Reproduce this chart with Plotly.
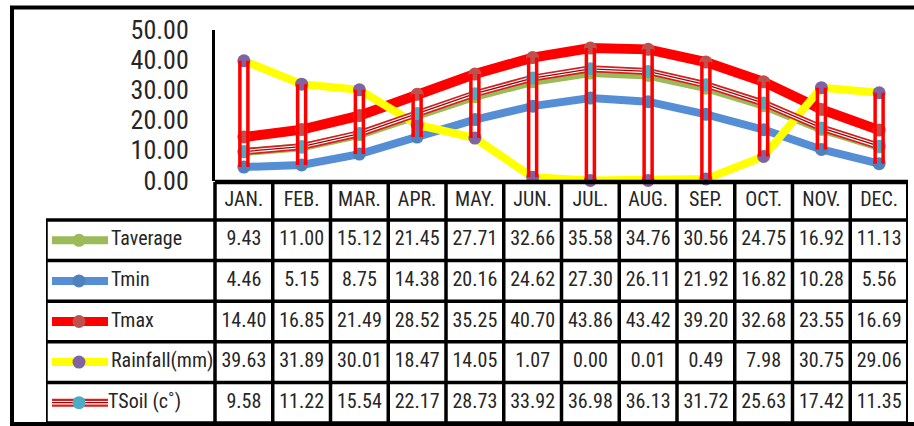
import plotly.graph_objects as go

# ---------------- data ----------------
months = ["JAN.", "FEB.", "MAR.", "APR.", "MAY.", "JUN.", "JUL.", "AUG.", "SEP.", "OCT.", "NOV.", "DEC."]
taverage = [9.43, 11.00, 15.12, 21.45, 27.71, 32.66, 35.58, 34.76, 30.56, 24.75, 16.92, 11.13]
tmin = [4.46, 5.15, 8.75, 14.38, 20.16, 24.62, 27.30, 26.11, 21.92, 16.82, 10.28, 5.56]
tmax = [14.40, 16.85, 21.49, 28.52, 35.25, 40.70, 43.86, 43.42, 39.20, 32.68, 23.55, 16.69]
rainfall = [39.63, 31.89, 30.01, 18.47, 14.05, 1.07, 0.00, 0.01, 0.49, 7.98, 30.75, 29.06]
tsoil = [9.58, 11.22, 15.54, 22.17, 28.73, 33.92, 36.98, 36.13, 31.72, 25.63, 17.42, 11.35]
series_names = ["Taverage", "Tmin", "Tmax", "Rainfall(mm)", "TSoil (c˚)"]
y_ticks = [0, 10, 20, 30, 40, 50]

# ---------------- layout constants (pixels) ----------------
W, H = 914, 426
PLOT_L, PLOT_R = 215, 908
Y0_PX, Y50_PX = 180.5, 29.5
LEG_L = 46
TABLE_TOP, HEADER_BOT, TABLE_BOT = 182, 220, 423
ROW_H = (TABLE_BOT - HEADER_BOT) / 5
COL_W = (PLOT_R - PLOT_L) / 12
X2_LO = -0.5 - (PLOT_L - LEG_L) / COL_W

FONT = "Liberation Sans Narrow, Arial Narrow, Roboto Condensed, Liberation Sans, sans-serif"
TXT = "#262626"

GREEN, GREEN_M = "#9BBB59", "#9BBB59"
BLUE, BLUE_M = "#558ED5", "#4F81BD"
RED, RED_M = "#FF0000", "#C0504D"
YEL, PUR = "#FFFF00", "#8064A2"
SOIL_A, SOIL_B, SOIL_M = "#D42020", "#A00000", "#4BACC6"

def px2x(px):
    return X2_LO + (px - LEG_L) / COL_W

x_idx = list(range(len(months)))
fig = go.Figure()

# ---------------- series ----------------
def series(y, lc, lw, mc, ms=13, with_marker=True):
    fig.add_trace(go.Scatter(
        x=x_idx, y=y, mode="lines+markers" if with_marker else "lines",
        line=dict(color=lc, width=lw),
        marker=dict(color=mc, size=ms, line=dict(width=0)),
        cliponaxis=False, showlegend=False, hoverinfo="skip"))

series(taverage, GREEN, 8, GREEN_M)
series(tmin, BLUE, 8, BLUE_M)
series(tmax, RED, 10, RED_M)
series(rainfall, YEL, 8, PUR)
series(tsoil, SOIL_A, 7, SOIL_M, with_marker=False)
series(tsoil, "white", 3.5, SOIL_M, with_marker=False)
series(tsoil, SOIL_B, 1.3, SOIL_M)

shapes = []
# high-low lines (double red line)
all_series = [taverage, tmin, tmax, rainfall, tsoil]
for i in x_idx:
    vals = [s[i] for s in all_series]
    lo, hi = min(vals), max(vals)
    for off in (-4, 4):
        shapes.append(dict(type="line", xref="x", yref="y", xsizemode="pixel",
                           xanchor=i, x0=off, x1=off, y0=lo, y1=hi,
                           line=dict(color="#FF0000", width=3.5), layer="above"))

# ---------------- table ----------------
shapes.append(dict(type="line", xref="x2", yref="y2", x0=-0.5, x1=11.5,
                   y0=TABLE_TOP, y1=TABLE_TOP, line=dict(color="black", width=4.5)))
for k in range(6):
    yy = HEADER_BOT + ROW_H * k
    shapes.append(dict(type="line", xref="x2", yref="y2", x0=X2_LO, x1=11.5,
                       y0=yy, y1=yy, line=dict(color="black", width=3.5)))
for k in range(13):
    xx = -0.5 + k
    shapes.append(dict(type="line", xref="x2", yref="y2", x0=xx, x1=xx,
                       y0=TABLE_TOP, y1=TABLE_BOT,
                       line=dict(color="black", width=4 if k == 12 else 3.5)))
shapes.append(dict(type="line", xref="x2", yref="y2", x0=X2_LO, x1=X2_LO,
                   y0=HEADER_BOT, y1=TABLE_BOT, line=dict(color="black", width=3.5)))
# outer frame
shapes.append(dict(type="rect", xref="paper", yref="paper",
                   x0=12 / W, x1=1.02, y0=(H - 424) / H, y1=(H - 7.5) / H,
                   line=dict(color="black", width=4)))

# header text
fig.add_trace(go.Scatter(
    x=x_idx, y=[201] * 12, xaxis="x2", yaxis="y2", mode="text", text=months,
    textfont=dict(family=FONT, size=20, color=TXT), textposition="middle center",
    showlegend=False, hoverinfo="skip", cliponaxis=False))

# data rows
for r, vals in enumerate(all_series):
    yc = HEADER_BOT + ROW_H * (r + 0.5)
    fig.add_trace(go.Scatter(
        x=x_idx, y=[yc] * 12, xaxis="x2", yaxis="y2", mode="text",
        text=[f"{v:.2f}" for v in vals],
        textfont=dict(family=FONT, size=20, color=TXT), textposition="middle center",
        showlegend=False, hoverinfo="skip", cliponaxis=False))

# legend keys
key_style = [
    (GREEN, 8, GREEN_M, None),
    (BLUE, 8, BLUE_M, None),
    (RED, 9, RED_M, None),
    (YEL, 8, PUR, None),
    (SOIL_A, 8, SOIL_M, "soil"),
]
for r, (lc, lw, mc, kind) in enumerate(key_style):
    yc = HEADER_BOT + ROW_H * (r + 0.5)
    xs = [px2x(52), px2x(108)]
    fig.add_trace(go.Scatter(x=xs, y=[yc, yc], xaxis="x2", yaxis="y2", mode="lines",
                             line=dict(color=lc, width=lw), showlegend=False,
                             hoverinfo="skip", cliponaxis=False))
    if kind == "soil":
        fig.add_trace(go.Scatter(x=xs, y=[yc, yc], xaxis="x2", yaxis="y2", mode="lines",
                                 line=dict(color="white", width=3.5), showlegend=False,
                                 hoverinfo="skip", cliponaxis=False))
        fig.add_trace(go.Scatter(x=xs, y=[yc, yc], xaxis="x2", yaxis="y2", mode="lines",
                                 line=dict(color=SOIL_B, width=1.3), showlegend=False,
                                 hoverinfo="skip", cliponaxis=False))
    fig.add_trace(go.Scatter(x=[px2x(79)], y=[yc], xaxis="x2", yaxis="y2", mode="markers",
                             marker=dict(color=mc, size=13, line=dict(width=0)),
                             showlegend=False, hoverinfo="skip", cliponaxis=False))
    fig.add_trace(go.Scatter(x=[px2x(108 if kind == "soil" else 111)], y=[yc],
                             xaxis="x2", yaxis="y2", mode="text", text=[series_names[r]],
                             textposition="middle right",
                             textfont=dict(family=FONT, size=20, color=TXT),
                             showlegend=False, hoverinfo="skip", cliponaxis=False))

fig.update_layout(
    width=W, height=H, margin=dict(l=0, r=0, t=0, b=0, pad=0, autoexpand=False),
    paper_bgcolor="white", plot_bgcolor="rgba(0,0,0,0)",
    showlegend=False, shapes=shapes,
    xaxis=dict(domain=[PLOT_L / W, PLOT_R / W], range=[-0.5, 11.5], automargin=False,
               showline=False, showgrid=False, zeroline=False, showticklabels=False),
    yaxis=dict(domain=[(H - Y0_PX) / H, (H - Y50_PX) / H], range=[0, 50],
               tickvals=y_ticks, tickformat=".2f", ticks="", automargin=False,
               showline=True, linecolor="black", linewidth=3,
               showgrid=False, zeroline=False, ticklabelstandoff=18,
               tickfont=dict(family=FONT, size=26, color=TXT)),
    xaxis2=dict(domain=[LEG_L / W, PLOT_R / W], range=[X2_LO, 11.5], anchor="y2",
                visible=False, automargin=False),
    yaxis2=dict(domain=[0, 1], range=[H, 0], anchor="x2", visible=False, automargin=False),
)

fig.write_html("out.html")
